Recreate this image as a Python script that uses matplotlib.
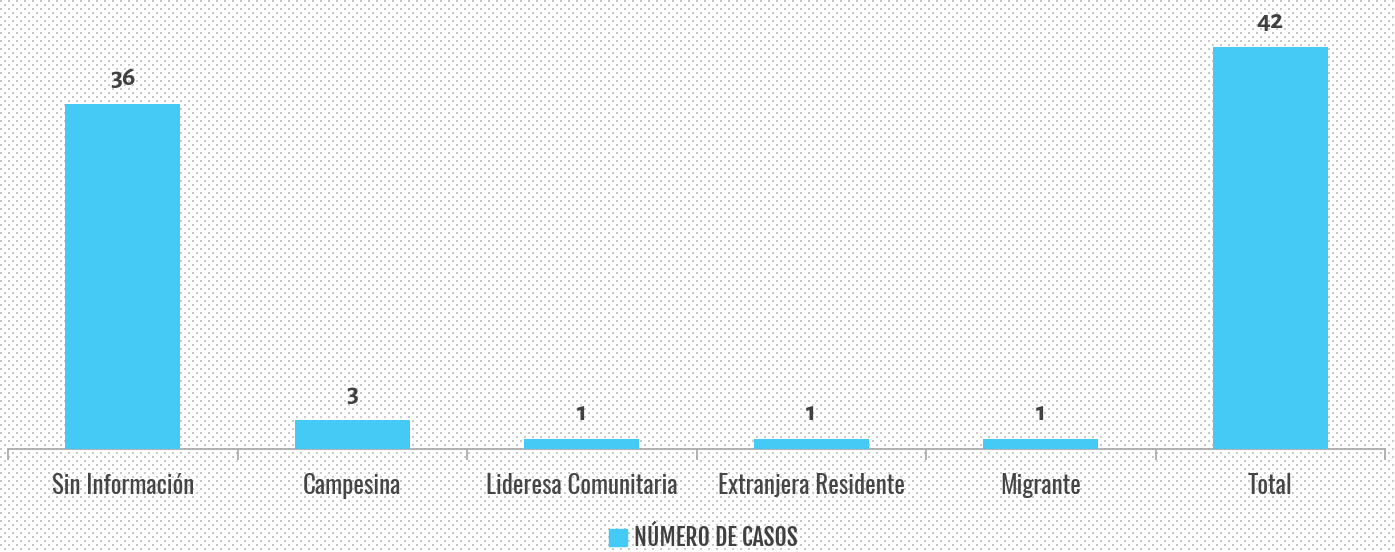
import matplotlib
matplotlib.use("Agg")
from matplotlib import pyplot as plt
from matplotlib.patches import Patch
import numpy as np

categories = ["Sin Información", "Campesina", "Lideresa Comunitaria",
              "Extranjera Residente", "Migrante", "Total"]
casos = [36, 3, 1, 1, 1, 42]
legend_label = "NÚMERO DE CASOS"

BAR_COLOR = "#45c9f5"
TEXT_COLOR = "#404040"
W, H = 1395, 552


def dotted_background():
    img = np.ones((H, W, 3))
    yy, xx = np.mgrid[0:H, 0:W]
    row = (yy // 4)
    shift = (row % 2) * 4
    dots = ((yy % 4) < 2) & (((xx + shift) % 8) < 2)
    img[dots] = np.array([200, 200, 200]) / 255.0
    return img


def main():
    fig = plt.figure(figsize=(W / 100, H / 100), dpi=100)
    fig.patch.set_facecolor("white")
    fig.figimage(dotted_background(), xo=0, yo=0, zorder=0)

    ax = fig.add_axes([8 / W, (H - 449) / H, 1377 / W, 449 / H])
    ax.set_zorder(2)
    ax.set_facecolor("none")
    x = np.arange(len(categories))
    ax.bar(x, casos, width=0.5, color=BAR_COLOR, zorder=3)
    ax.set_xlim(-0.5, len(categories) - 0.5)
    ax.set_ylim(0, 449 / 9.57)

    # value labels (old-style figures like the original)
    for xi, v in zip(x, casos):
        ax.annotate(str(v), (xi, v), xytext=(0, 14), textcoords="offset points",
                    ha="center", va="baseline", fontsize=20, fontweight="bold",
                    color=TEXT_COLOR, family=["Alegreya Sans", "DejaVu Sans"])

    for side in ["top", "right", "left"]:
        ax.spines[side].set_visible(False)
    ax.spines["bottom"].set_color("#a6a6a6")
    ax.spines["bottom"].set_linewidth(1.2)
    ax.set_yticks([])
    ax.set_xticks(x)
    ax.set_xticklabels(categories, fontsize=18, color="#454545",
                       family=["Oswald", "DejaVu Sans"])
    ax.tick_params(axis="x", which="major", length=0, pad=17)
    ax.set_xticks(np.arange(-0.5, len(categories)), minor=True)
    ax.tick_params(axis="x", which="minor", length=8, color="#a6a6a6", width=1.2)

    leg = fig.legend(handles=[Patch(color=BAR_COLOR, label=legend_label)],
                     loc="center", bbox_to_anchor=(703 / W, 14 / H), frameon=False,
                     handlelength=0.75, handleheight=0.75, handletextpad=0.3,
                     prop={"family": ["Fjalla One", "DejaVu Sans"], "size": 17})
    leg.set_zorder(3)
    for t in leg.get_texts():
        t.set_color(TEXT_COLOR)

    fig.savefig("out.png", dpi=100)


if __name__ == '__main__':
    main()
